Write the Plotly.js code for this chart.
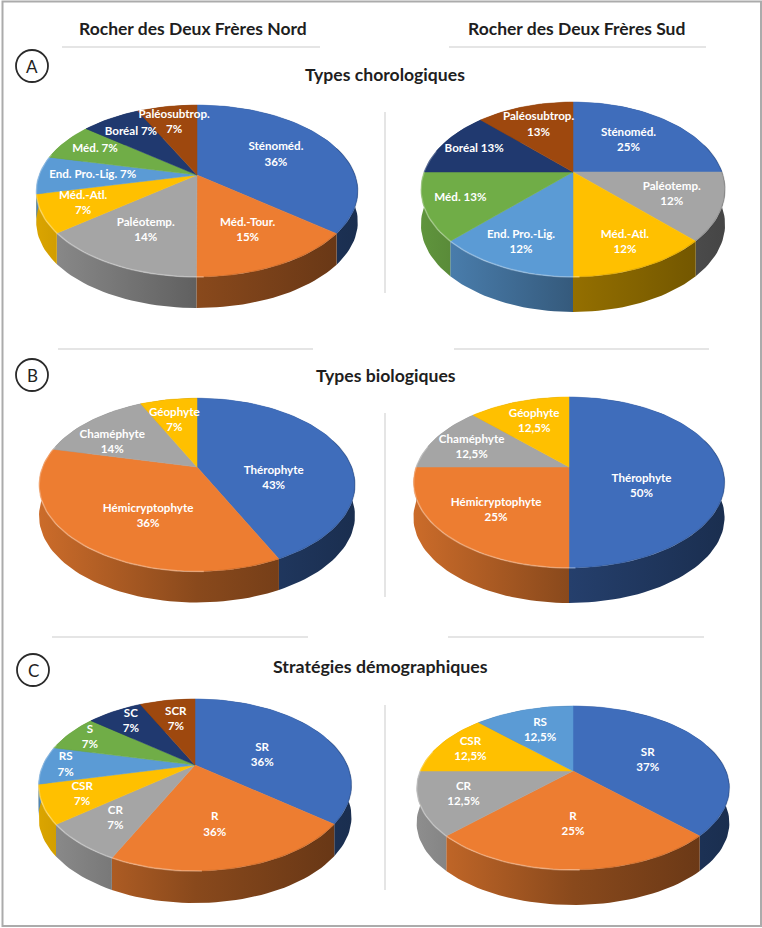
<!DOCTYPE html>
<html lang="fr">
<head>
<meta charset="utf-8">
<title>Rocher des Deux Frères</title>
<script src="https://cdn.plot.ly/plotly-3.0.1.min.js"></script>
<style>html,body{margin:0;padding:0;background:#fff}#chart{width:762px;height:928px}</style>
</head>
<body>
<div id="chart"></div>
<script>
// ---------- Data ----------
const chorNordNames  = ['Sténoméd.','Méd.-Tour.','Paléotemp.','Méd.-Atl.','End. Pro.-Lig.','Méd.','Boréal','Paléosubtrop.'];
const chorNordShares = [35.7,14.3,14.3,7.1,7.1,7.1,7.1,7.2];
const chorNordShown  = ['36%','15%','14%','7%','7%','7%','7%','7%'];

const chorSudNames   = ['Sténoméd.','Paléotemp.','Méd.-Atl.','End. Pro.-Lig.','Méd.','Boréal','Paléosubtrop.'];
const chorSudShares  = [25,12.5,12.5,12.5,12.5,12.5,12.5];
const chorSudShown   = ['25%','12%','12%','12%','13%','13%','13%'];

const bioNordNames   = ['Thérophyte','Hémicryptophyte','Chaméphyte','Géophyte'];
const bioNordShares  = [42.9,35.7,14.3,7.1];
const bioNordShown   = ['43%','36%','14%','7%'];

const bioSudNames    = ['Thérophyte','Hémicryptophyte','Chaméphyte','Géophyte'];
const bioSudShares   = [50,25,12.5,12.5];
const bioSudShown    = ['50%','25%','12,5%','12,5%'];

const demoNordNames  = ['SR','R','CR','CSR','RS','S','SC','SCR'];
const demoNordShares = [35.7,21.4,7.15,7.15,7.15,7.15,7.15,7.15];
const demoNordShown  = ['36%','36%','7%','7%','7%','7%','7%','7%'];

const demoSudNames   = ['SR','R','CR','CSR','RS'];
const demoSudShares  = [37.5,25,12.5,12.5,12.5];
const demoSudShown   = ['37%','25%','12,5%','12,5%','12,5%'];

const columnTitles = ['Rocher des Deux Frères Nord','Rocher des Deux Frères Sud'];
const rowTitles    = ['Types chorologiques','Types biologiques','Stratégies démographiques'];
const rowLetters   = ['A','B','C'];

// ---------- Styles ----------
const BLUE='#3F6DBB',ORANGE='#ED7D31',GRAY='#A5A5A5',YELLOW='#FFC000',SKY='#5B9BD5',GREEN='#70AD47',NAVY='#20396F',BROWN='#9E480E';
const fullPalette=[BLUE,ORANGE,GRAY,YELLOW,SKY,GREEN,NAVY,BROWN];
const sudPalette=[BLUE,GRAY,YELLOW,SKY,GREEN,NAVY,BROWN];
const FONT='Lato, "Open Sans", sans-serif';

// ---------- Pie geometry (hub, half axes, perspective, wall height) and label placement ----------
const pies=[
 {names:chorNordNames,shares:chorNordShares,shown:chorNordShown,colors:fullPalette,hx:197,hy:175,A:158,B:83,k:.186,d:31,
  reach:[.58,.66,.66,.75,.66,.76,.74,.73],turn:[0,0,0,0,0,0,0,0],oneLine:[4,5,6]},
 {names:chorSudNames,shares:chorSudShares,shown:chorSudShown,colors:sudPalette,hx:573,hy:172,A:149,B:84,k:.2,d:35,
  reach:[.57,.68,.78,.78,.77,.76,.68],turn:[0,0,0,0,0,0,0],oneLine:[4,5]},
 {names:bioNordNames,shares:bioNordShares,shown:bioNordShown,colors:fullPalette,hx:197,hy:467,A:154.6,B:83,k:.206,d:31,
  reach:[.5,.6,.66,.65],turn:[28,-10.7,-10.7,-2],oneLine:[]},
 {names:bioSudNames,shares:bioSudShares,shown:bioSudShown,colors:fullPalette,hx:569,hy:467,A:153,B:82.7,k:.181,d:35,
  reach:[.51,.65,.71,.66],turn:[27,-3,-2,0],oneLine:[]},
 {names:demoNordNames,shares:demoNordShares,shown:demoNordShown,colors:fullPalette,hx:195,hy:765,A:152.2,B:81.4,k:.2326,d:32,
  reach:[.47,.64,.73,.76,.85,.83,.77,.65],turn:[10.7,3,0,0,0,0,0,0],oneLine:[]},
 {names:demoSudNames,shares:demoSudShares,shown:demoSudShown,colors:fullPalette,hx:573,hy:771,A:153,B:78.5,k:.207,d:35,
  reach:[.52,.6,.73,.77,.63],turn:[7.5,0,0,0,0],oneLine:[]}
];

function hexRgb(h){return [1,3,5].map(i=>parseInt(h.substr(i,2),16));}
function shade(h,f){return 'rgb('+hexRgb(h).map(c=>Math.round(c*f)).join(',')+')';}

function project(p,deg,frac){
  const t=deg*Math.PI/180,u=frac*Math.sin(t),v=frac*Math.cos(t),w=1+p.k*v;
  return [p.hx+p.A*u/w,p.hy-p.B*v/w];
}
function arc(p,a0,a1,drop){
  const n=Math.max(2,Math.ceil(Math.abs(a1-a0)/2)),xs=[],ys=[];
  for(let i=0;i<=n;i++){const q=project(p,a0+(a1-a0)*i/n,1);xs.push(q[0]);ys.push(q[1]+drop);}
  return [xs,ys];
}

const walls=[],tops=[],edges=[],labels=[];
pies.forEach(p=>{
  const total=p.shares.reduce((s,v)=>s+v,0);
  const left=p.hx-p.A*1.03,right=p.hx+p.A*1.03;
  let cum=0;
  p.shares.forEach((val,i)=>{
    const a0=cum/total*360,a1=(cum+val)/total*360;cum+=val;
    const col=p.colors[i];
    const [tx,ty]=arc(p,a0,a1,0);
    const [bx,by]=arc(p,a1,a0,p.d);
    walls.push({type:'scatter',mode:'lines',x:tx.concat(bx,[tx[0]]),y:ty.concat(by,[ty[0]]),fill:'toself',
      line:{width:0,color:'rgba(0,0,0,0)'},
      fillgradient:{type:'horizontal',start:left,stop:right,
        colorscale:[[0,shade(col,.86)],[.5,shade(col,.58)],[1,shade(col,.42)]]},
      hoverinfo:'skip',showlegend:false});
    tops.push({type:'scatter',mode:'lines',x:[p.hx].concat(tx,[p.hx]),y:[p.hy].concat(ty,[p.hy]),fill:'toself',
      fillcolor:col,line:{width:.5,color:col},hoverinfo:'skip',showlegend:false});
    const mid=(a0+a1)/2+p.turn[i];
    const q=project(p,mid,p.reach[i]);
    const sep=p.oneLine.includes(i)?' ':'<br>';
    labels.push({x:q[0],y:q[1],t:p.names[i]+sep+p.shown[i]});
  });
  const [lx,ly]=arc(p,178,285,0);
  edges.push({type:'scatter',mode:'lines',x:lx,y:ly,line:{width:1.6,color:'rgba(255,255,255,.28)'},hoverinfo:'skip',showlegend:false});
  const [rx,ry]=arc(p,70,178,0);
  edges.push({type:'scatter',mode:'lines',x:rx,y:ry,line:{width:1.6,color:'rgba(0,0,0,.10)'},hoverinfo:'skip',showlegend:false});
});

const labelTrace={type:'scatter',mode:'text',x:labels.map(l=>l.x),y:labels.map(l=>l.y),text:labels.map(l=>l.t),
  textposition:'middle center',textfont:{family:FONT,size:11.6,color:'#FFFFFF',weight:700},hoverinfo:'skip',showlegend:false,cliponaxis:false};

function bold(text,x,y,size){
  return {text:'<b>'+text+'</b>',x,y,xref:'x',yref:'y',showarrow:false,xanchor:'center',yanchor:'middle',
    font:{family:FONT,size,color:'#1E1E1E'}};
}
const annotations=[
  bold(columnTitles[0],193,28,17.5),bold(columnTitles[1],576,28,17.5),
  bold(rowTitles[0],385,74,17.6),bold(rowTitles[1],386,375,17.6),bold(rowTitles[2],380,666,17.8),
  {text:rowLetters[0],x:32,y:66,showarrow:false,font:{family:FONT,size:17,color:'#222'}},
  {text:rowLetters[1],x:32,y:375,showarrow:false,font:{family:FONT,size:17,color:'#222'}},
  {text:rowLetters[2],x:33,y:670,showarrow:false,font:{family:FONT,size:17,color:'#222'}}
];
const rule=(x0,y0,x1,y1,c)=>({type:'line',x0,y0,x1,y1,layer:'below',line:{color:c||'#DDDDDD',width:1.5}});
const ring=(x,y)=>({type:'circle',x0:x-16,x1:x+16,y0:y-16,y1:y+16,line:{color:'#2A2A2A',width:1.8}});
const shapes=[
  {type:'rect',x0:2.5,y0:1.5,x1:761,y1:926,layer:'below',line:{color:'#ABABAB',width:2}},
  rule(62,47,320,47),rule(449,47,706,47),
  rule(58,349,313,349),rule(454,349,709,349),
  rule(52,637,308,637),rule(448,637,704,637),
  rule(385,112,385,293),rule(385,413,385,597),rule(385,705,385,890),
  ring(32,66),ring(32,375),ring(33,670)
];

Plotly.newPlot('chart',walls.concat(tops,edges,[labelTrace]),{
  width:762,height:928,margin:{l:0,r:0,t:0,b:0},paper_bgcolor:'#fff',plot_bgcolor:'#fff',showlegend:false,
  xaxis:{range:[0,762],visible:false,fixedrange:true},
  yaxis:{range:[928,0],visible:false,fixedrange:true},
  annotations,shapes
},{displayModeBar:false,staticPlot:true});
</script>
</body>
</html>
